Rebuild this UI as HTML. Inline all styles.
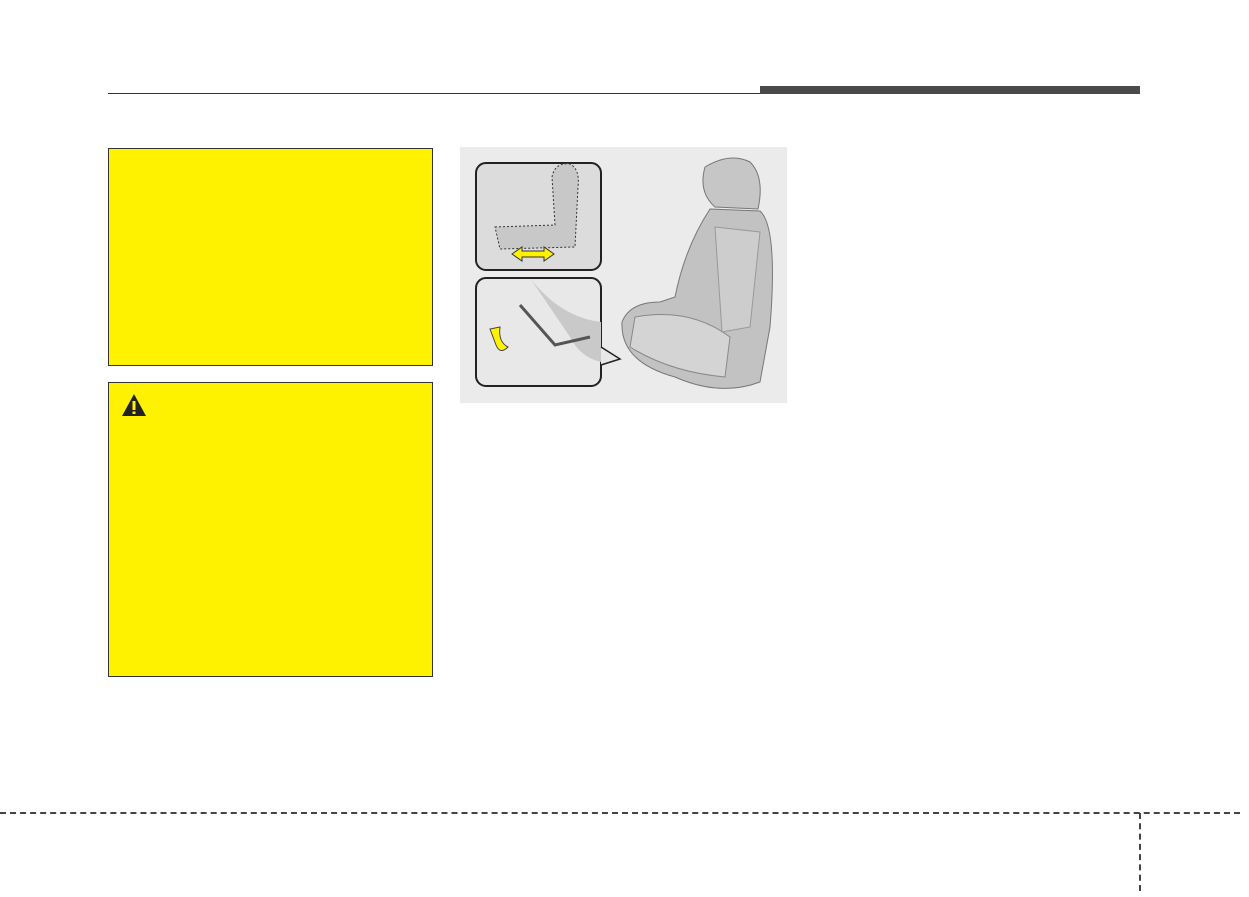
<!DOCTYPE html>
<html><head><style>
body{margin:0;width:1249px;height:897px;background:#fff;position:relative;overflow:hidden;font-family:"Liberation Sans",sans-serif}
.a{position:absolute}
</style></head><body>
<div class="a" style="left:108px;top:93px;width:652px;height:1px;background:#333"></div>
<div class="a" style="left:760px;top:86px;width:380px;height:8px;background:#4a4a4a"></div>
<div class="a" style="left:108px;top:148px;width:323px;height:216px;background:#fff200;border:1px solid #333"></div>
<div class="a" style="left:108px;top:382px;width:323px;height:293px;background:#fff200;border:1px solid #333"></div>
<svg class="a" style="left:121px;top:393px" width="26" height="24"><polygon points="13,1 25,23 1,23" fill="#222"/><rect x="11.5" y="8" width="3" height="9" fill="#fff200"/><rect x="11.5" y="18.5" width="3" height="2.5" fill="#fff200"/></svg>
<svg class="a" style="left:460px;top:147px" width="327" height="256">
<rect width="327" height="256" fill="#ebebeb"/>
<rect x="16" y="16" width="125" height="107" rx="10" fill="#dcdcdc" stroke="#222" stroke-width="2"/>
<path d="M35 80 L95 78 L92 30 Q95 15 110 17 Q120 22 118 40 L115 100 L40 102 Z" fill="#c8c8c8" stroke="#333" stroke-dasharray="2,2"/>
<polygon points="52,107 62,100 62,104 84,104 84,100 94,107 84,114 84,110 62,110 62,114" fill="#fff200" stroke="#333"/>
<rect x="16" y="131" width="125" height="108" rx="10" fill="#e8e8e8" stroke="#222" stroke-width="2"/>
<path d="M70 131 Q100 170 141 175 L141 215 Q120 210 110 190 Z" fill="#c9c9c9"/>
<path d="M60 158 L95 198 L130 190" fill="none" stroke="#555" stroke-width="3"/>
<path d="M30 182 L40 180 Q38 195 48 200 Q40 208 36 198 Z" fill="#fff200" stroke="#444"/>
<path d="M141 200 L160 212 L141 218" fill="#e8e8e8" stroke="#222" stroke-width="1.5"/>
<path d="M245 20 Q270 5 290 15 Q305 30 298 62 L255 60 Q238 45 245 20 Z" fill="#c6c6c6" stroke="#777"/>
<path d="M250 62 L300 64 Q318 80 310 180 L300 235 Q260 250 215 230 Q160 215 162 175 Q170 155 200 155 L215 150 Q225 100 250 62 Z" fill="#c2c2c2" stroke="#777"/>
<path d="M175 170 Q230 160 270 190 L265 230 Q210 225 170 200 Z" fill="#d4d4d4" stroke="#888"/>
<path d="M255 80 L300 85 L290 180 L262 185 Z" fill="#cdcdcd" stroke="#999"/>
</svg>
<div class="a" style="left:0;top:812px;width:1240px;border-top:2px dashed #444"></div>
<div class="a" style="left:1139px;top:813px;height:78px;border-left:2px dashed #444"></div>
</body></html>
